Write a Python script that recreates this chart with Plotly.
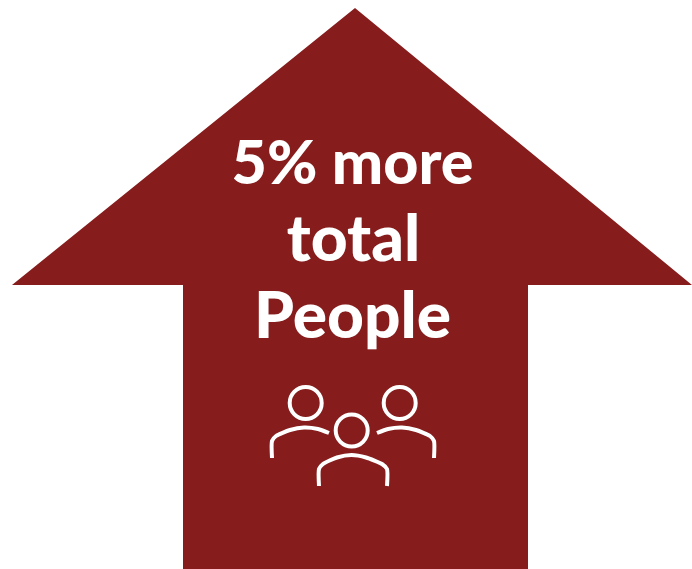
import plotly.graph_objects as go

BG = "#861C1C"
arrow_x = [355, 692, 528, 528, 183, 183, 12, 355]
arrow_y = [8, 285, 285, 569, 569, 285, 285, 8]

labels = ["5% more", "total", "People"]
label_x = [352.5, 353.5, 352.5]
label_y = [169, 245, 322]
LABEL_SIZES = [61, 64, 64]

head_x = [305.7, 399.7, 351.7]
head_y = [403, 403, 430.5]

shoulder_left_x = [272, 272, 276, 290, 304, 318, 329]
shoulder_left_y = [458, 441, 436, 430, 427.5, 429, 433]
shoulder_right_x = [377, 388, 402, 416, 430, 434, 434]
shoulder_right_y = [433, 429, 427.5, 430, 436, 441, 458]
shoulder_mid_x = [319, 319, 323, 337, 351.5, 366, 382, 387, 387]
shoulder_mid_y = [486, 469, 464, 457.5, 455, 457.5, 464, 469, 486]

fig = go.Figure()
fig.add_trace(go.Scatter(x=arrow_x, y=arrow_y, mode="lines", fill="toself",
                         fillcolor=BG, line=dict(width=0, color=BG), hoverinfo="skip"))
for xs, ys in [(shoulder_left_x, shoulder_left_y), (shoulder_right_x, shoulder_right_y),
               (shoulder_mid_x, shoulder_mid_y)]:
    fig.add_trace(go.Scatter(x=xs, y=ys, mode="lines",
                             line=dict(color="white", width=4, shape="spline", smoothing=0.6),
                             hoverinfo="skip"))
fig.add_trace(go.Scatter(x=head_x, y=head_y, mode="markers",
                         marker=dict(symbol="circle-open", size=32, color="white", line=dict(width=4, color="white")),
                         hoverinfo="skip"))
fig.add_trace(go.Scatter(x=label_x, y=label_y, mode="text", text=labels,
                         textposition="middle center",
                         textfont=dict(family="Lato", size=LABEL_SIZES, color="white", weight=900),
                         hoverinfo="skip"))
fig.update_layout(width=692, height=569, margin=dict(l=0, r=0, t=0, b=0),
                  paper_bgcolor="white", plot_bgcolor="white", showlegend=False,
                  xaxis=dict(range=[0, 692], visible=False, fixedrange=True),
                  yaxis=dict(range=[569, 0], visible=False, fixedrange=True))
fig.write_html("out.html", config={"displayModeBar": False},
               post_script="document.body.style.margin='0';window.dispatchEvent(new Event('resize'));")
